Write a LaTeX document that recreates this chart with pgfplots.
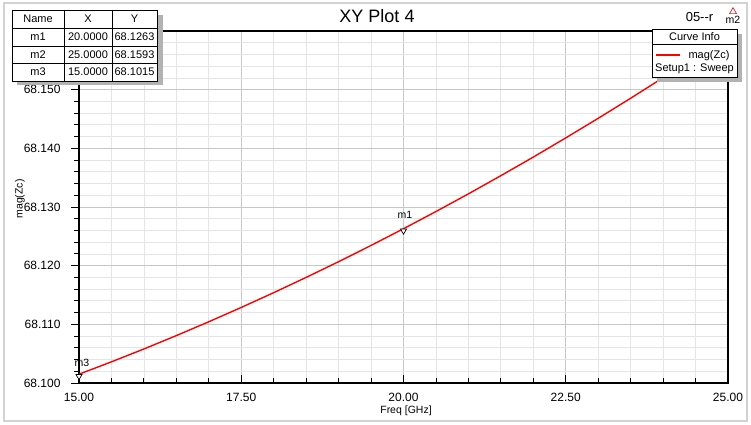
\documentclass[border=0pt]{standalone}
\usepackage{pgfplots}
\pgfplotsset{compat=1.18}
\usepackage{fontspec}
\setmainfont{Liberation Sans}
\begin{document}
\begin{tikzpicture}[x=1pt,y=1pt]
\fill[white] (0,0) rectangle (751,424);
\draw[gray!35, line width=2pt] (4,3) rectangle (747,421);
\begin{axis}[at={(79pt,41pt)}, anchor=south west, scale only axis,
  width=649pt, height=352pt,
  xmin=15, xmax=25, ymin=68.1, ymax=68.16,
  xtick={15,17.5,20,22.5,25},
  xticklabels={15.00,17.50,20.00,22.50,25.00},
  ytick={68.10,68.11,68.12,68.13,68.14,68.15},
  yticklabels={68.100,68.110,68.120,68.130,68.140,68.150},
  minor xtick={15.5,16,16.5,17,18,18.5,19,19.5,20.5,21,21.5,22,23,23.5,24,24.5},
  minor ytick={68.102,68.104,68.106,68.108,68.112,68.114,68.116,68.118,68.122,68.124,68.126,68.128,68.132,68.134,68.136,68.138,68.142,68.144,68.146,68.148,68.152,68.154,68.156,68.158},
  grid=both,
  major grid style={black!22, line width=0.8pt},
  minor grid style={black!10, line width=0.8pt},
  tick pos=left, xtick align=inside, ytick align=outside,
  major tick length=8pt, minor tick length=5pt,
  axis line style={line width=1.2pt},
  tick style={black, line width=0.9pt},
  ticklabel style={font=\fontsize{12}{14}\selectfont},
  yticklabel style={xshift=-7pt},
  xticklabel style={yshift=-7pt},
  clip=false,
]
\addplot[red, line width=1.4pt] coordinates {
(15.0,68.1015) (15.5,68.10361) (16.0,68.10580) (16.5,68.10808) (17.0,68.11044)
(17.5,68.11288) (18.0,68.11540) (18.5,68.11800) (19.0,68.12068) (19.5,68.12345)
(20.0,68.1263) (20.5,68.12923) (21.0,68.13224) (21.5,68.13534) (22.0,68.13851)
(22.5,68.14178) (23.0,68.14512) (23.5,68.14854) (24.0,68.15204) (24.5,68.15563)
(25.0,68.1593)};
\addplot[only marks, mark=triangle*, mark size=3.5pt,
  mark options={rotate=180, fill=white, draw=black, line width=0.7pt, yshift=2pt}]
  coordinates {(20,68.1263) (15,68.1015)};
\addplot[only marks, mark=triangle, mark size=4pt,
  mark options={draw=red!70!gray, line width=0.7pt, xshift=5pt, yshift=23.5pt}]
  coordinates {(25,68.1593)};
\node[font=\fontsize{10.5}{12}\selectfont] at (axis cs:20,68.1263) [yshift=14pt, xshift=1.5pt] {m1};
\node[font=\fontsize{10.5}{12}\selectfont] at (axis cs:15,68.1015) [yshift=11pt, xshift=3pt] {m3};
\node[font=\fontsize{10.5}{12}\selectfont] at (axis cs:25,68.1593) [yshift=15pt, xshift=5pt] {m2};
\end{axis}
% axis labels
\node[font=\fontsize{10.5}{12}\selectfont] at (406,13) {Freq [GHz]};
\node[font=\fontsize{10.5}{12}\selectfont, rotate=90] at (20,225) {mag(Zc)};
% title
\node[font=\fontsize{18}{20}\selectfont, anchor=base] at (377,401) {XY Plot 4};
\node[font=\fontsize{13}{15}\selectfont, anchor=base] at (699.5,402) {05{-}{-}r};
% marker table
\fill[black!30] (17,339) rectangle (163,409);
\fill[white] (12,343) rectangle (157.5,414);
\draw[black, line width=0.8pt] (12,343) rectangle (157.5,414);
\draw[black, line width=0.6pt] (12,396) -- (157.5,396) (12,377.5) -- (157.5,377.5) (12,360.5) -- (157.5,360.5)
  (64.5,343) -- (64.5,414) (112,343) -- (112,414);
\begin{scope}[every node/.style={font=\fontsize{11}{13}\selectfont}]
\node at (38,405) {Name}; \node at (88,405) {X}; \node at (134.5,405) {Y};
\node at (38,387) {m1}; \node at (88,387) {20.0000}; \node at (134.5,387) {68.1263};
\node at (38,369) {m2}; \node at (88,369) {25.0000}; \node at (134.5,369) {68.1593};
\node at (38,352) {m3}; \node at (88,352) {15.0000}; \node at (134.5,352) {68.1015};
\end{scope}
% curve info legend
\fill[black!30] (657,342) rectangle (742,390);
\fill[white] (652,347) rectangle (737,395);
\draw[black, line width=0.8pt] (652,347) rectangle (737,395);
\draw[black, line width=0.6pt] (652,380) -- (737,380);
\draw[red, line width=1.4pt] (656,369) -- (680,369);
\begin{scope}[every node/.style={font=\fontsize{11}{13}\selectfont}]
\node at (694.5,387.5) {Curve Info};
\node at (709,368) {mag(Zc)};
\node at (694.5,355) {Setup1 : Sweep};
\end{scope}
\end{tikzpicture}
\end{document}
